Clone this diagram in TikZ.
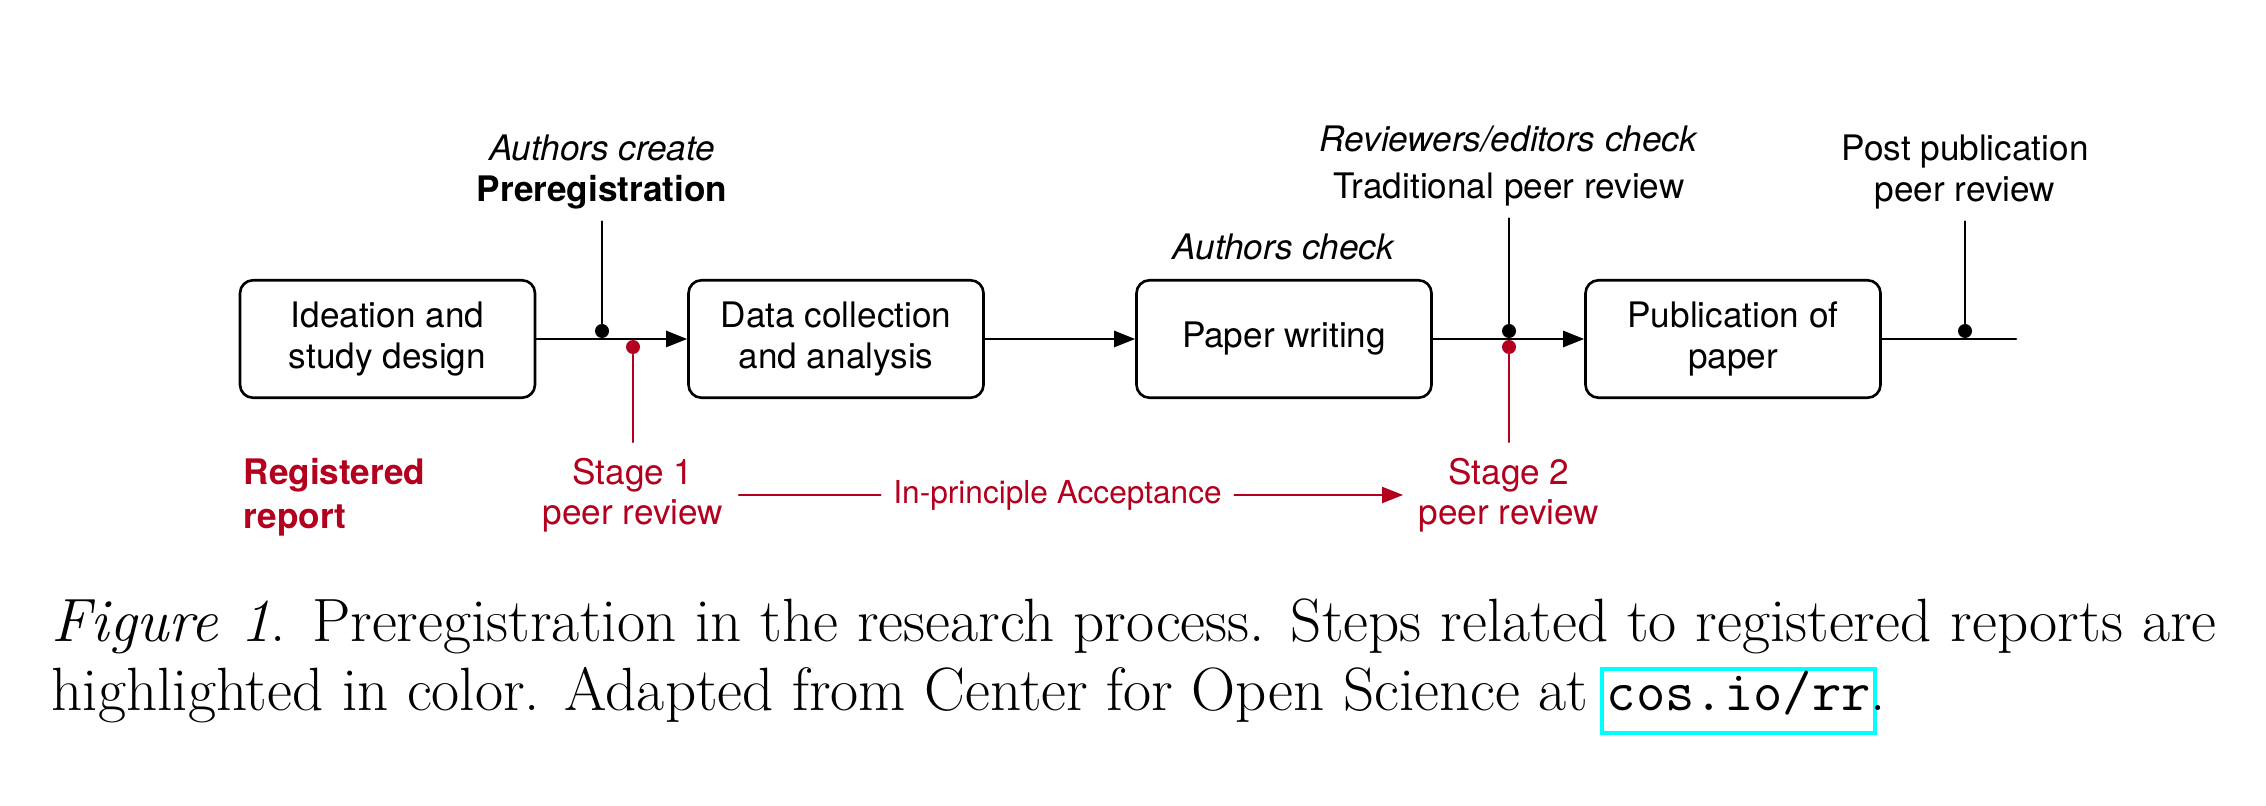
\documentclass[tikz,border=0pt]{standalone}
\usepackage{fontspec}
\setsansfont{TeX Gyre Heros}
\usepackage{tikz}
\usetikzlibrary{arrows.meta}
\definecolor{rrred}{RGB}{178,0,30}
\definecolor{linkcyan}{RGB}{0,255,255}
\newlength{\urlw}
\newcommand{\urlbox}[1]{\settowidth{\urlw}{\texttt{#1}}\rlap{\hspace{-2pt}\raisebox{-5.8pt}[0pt][0pt]{\color{linkcyan}\setlength{\fboxsep}{0pt}\setlength{\fboxrule}{1.1pt}\fbox{\rule{0pt}{16.9pt}\hspace{\dimexpr\urlw+1.6pt\relax}}}}\texttt{#1}}
\tikzset{
  every picture/.style={line join=round, line cap=round, >={Triangle[length=0.21cm,width=0.16cm]}},
  stepbox/.style={draw, line width=0.75pt, rounded corners=0.13cm, minimum width=2.95cm, minimum height=1.175cm, align=center, font=\sffamily\fontsize{10}{11.5}\selectfont},
  flow/.style={line width=0.75pt},
  note/.style={align=center, font=\sffamily\fontsize{10}{11.5}\selectfont},
  rnote/.style={note, text=rrred, inner sep=0.15cm},
  callout/.style={line width=0.55pt},
  rline/.style={line width=0.55pt, draw=rrred, fill=rrred},
  bdot/.style={circle, fill=black, inner sep=0pt, minimum size=0.14cm},
  rdot/.style={bdot, fill=rrred},
}

\begin{document}
\begin{tikzpicture}
\useasboundingbox (0,0) rectangle (22.66,-8.06);
\node[stepbox] (ideate) at (3.875,-3.39) {Ideation and\\study design};
\node[stepbox] (collect) at (8.36,-3.39) {Data collection\\and analysis};
\node[stepbox] (write) at (12.84,-3.39) {Paper writing};
\node[stepbox] (publish) at (17.33,-3.39) {Publication of\\paper};
\coordinate (lineend) at (20.16,-3.39);
\draw[flow,->] (ideate) -- (collect);
\draw[flow,->] (collect) -- (write);
\draw[flow,->] (write) -- (publish);
\draw[flow] (publish) -- (lineend);

\node[bdot] (preDot) at (6.02,-3.31) {};
\node[rdot] (s1Dot) at (6.33,-3.47) {};
\node[bdot] (tradDot) at (15.09,-3.31) {};
\node[rdot] (s2Dot) at (15.09,-3.47) {};
\node[bdot] (postDot) at (19.65,-3.31) {};

\node[note] (prereg) at (6.02,-1.72) {\textit{Authors create}\\\textbf{Preregistration}};
\node[note] (acheck) at (12.84,-2.47) {\textit{Authors check}};
\node[note] (trad) at (15.09,-1.66) {\textit{Reviewers/editors check}\\[1.7pt]Traditional peer review};
\node[note] (post) at (19.65,-1.72) {Post publication\\peer review};
\draw[callout] (prereg) -- (preDot);
\draw[callout] (trad) -- (tradDot);
\draw[callout] (post) -- (postDot);

\node[rnote, anchor=west, inner sep=0pt, align=left, font=\sffamily\bfseries\fontsize{10}{11.5}\selectfont] (regrep) at (2.43,-4.975) {Registered\\[1pt]report};
\node[rnote] (stage1) at (6.33,-4.95) {Stage 1\\peer review};
\node[rnote] (stage2) at (15.09,-4.95) {Stage 2\\peer review};
\node[rnote, inner sep=0.12cm, font=\sffamily\fontsize{9}{10.8}\selectfont] (accept) at (10.575,-4.95) {In-principle Acceptance};
\draw[rline] (s1Dot) -- (stage1);
\draw[rline] (s2Dot) -- (stage2);
\draw[rline] (stage1.east) -- (accept.west);
\draw[rline,->] (accept.east) -- (stage2.west);

\node[anchor=north west, inner sep=0pt, text width=21.65cm, align=justify, font=\fontsize{17.4}{19.6}\selectfont] (caption) at (0.51,-5.98) {\textit{Figure 1}. Preregistration in the research process. Steps related to registered reports are\linebreak highlighted in color. Adapted from Center for Open Science at {\fontsize{16.2}{19.6}\selectfont\urlbox{cos.io/rr}}.};
\end{tikzpicture}
\end{document}
